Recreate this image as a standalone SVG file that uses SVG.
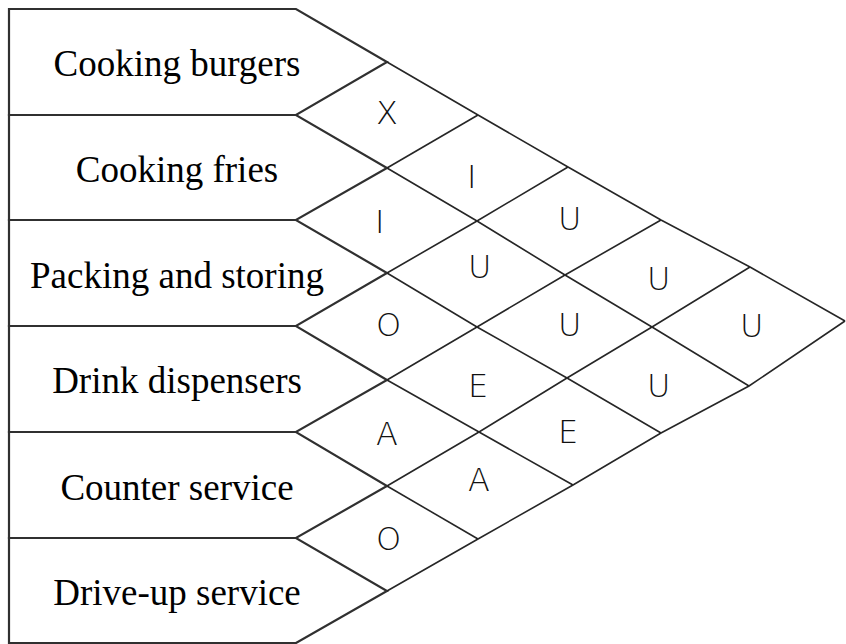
<svg xmlns="http://www.w3.org/2000/svg" width="846" height="644" viewBox="0 0 846 644">
  <style>
    .box { fill: #ffffff; stroke: #303030; stroke-width: 2.2; stroke-linejoin: miter; }
    .name { font-family: "Liberation Serif", "Times New Roman", serif; font-size: 37px; fill: #000000; text-anchor: middle; }
    .grid { fill: none; stroke: #262626; stroke-width: 1.6; stroke-linejoin: miter; }
    .rate { font-family: "DejaVu Sans", "Liberation Sans", Arial, sans-serif; font-weight: 200; font-size: 32px; fill: #111111; }
  </style>

  <rect width="846" height="644" fill="#ffffff"/>

  <!-- activity boxes -->
  <g id="cooking-burgers">
    <polygon class="box" points="9,9 296,9 387,62 296,115 9,115"/>
    <text class="name" x="177" y="76">Cooking burgers</text>
  </g>
  <g id="cooking-fries">
    <polygon class="box" points="9,115 296,115 387,168 296,220 9,220"/>
    <text class="name" x="177" y="181.5">Cooking fries</text>
  </g>
  <g id="packing-storing">
    <polygon class="box" points="9,220 296,220 387,273 296,326 9,326"/>
    <text class="name" x="177" y="288">Packing and storing</text>
  </g>
  <g id="drink-dispensers">
    <polygon class="box" points="9,326 296,326 387,380 296,432 9,432"/>
    <text class="name" x="177" y="393">Drink dispensers</text>
  </g>
  <g id="counter-service">
    <polygon class="box" points="9,432 296,432 387,486 296,538 9,538"/>
    <text class="name" x="177" y="500">Counter service</text>
  </g>
  <g id="drive-up-service">
    <polygon class="box" points="9,538 296,538 387,591 296,643 9,643"/>
    <text class="name" x="177" y="605">Drive-up service</text>
  </g>

  <!-- relationship grid: diagonals running down-right and up-right -->
  <g id="connectors">
    <polyline class="grid" points="387,62 478,115 568,167 661,220 750,267 845,321"/>
    <polyline class="grid" points="387,168 477,221 565,275 652,327 749,386"/>
    <polyline class="grid" points="387,273 477,327 567,378 661,433"/>
    <polyline class="grid" points="387,380 479,432 573,485"/>
    <polyline class="grid" points="387,486 478,539"/>

    <polyline class="grid" points="387,168 478,115"/>
    <polyline class="grid" points="387,273 477,221 568,167"/>
    <polyline class="grid" points="387,380 477,327 565,275 661,220"/>
    <polyline class="grid" points="387,486 479,432 567,378 652,327 750,267"/>
    <polyline class="grid" points="387,591 478,539 573,485 661,433 749,386 845,321"/>
  </g>

  <!-- closeness ratings -->
  <g id="ratings">
    <text class="rate" x="376" y="124">X</text>
    <text class="rate" x="467" y="188">I</text>
    <text class="rate" x="375" y="233">I</text>
    <text class="rate" x="558" y="230">U</text>
    <text class="rate" x="468" y="278">U</text>
    <text class="rate" x="647" y="290">U</text>
    <text class="rate" x="376" y="336">O</text>
    <text class="rate" x="558" y="336">U</text>
    <text class="rate" x="740" y="337">U</text>
    <text class="rate" x="468" y="396.5">E</text>
    <text class="rate" x="647" y="397">U</text>
    <text class="rate" x="376" y="445">A</text>
    <text class="rate" x="558" y="443">E</text>
    <text class="rate" x="468" y="490.5">A</text>
    <text class="rate" x="376" y="550">O</text>
  </g>
</svg>
